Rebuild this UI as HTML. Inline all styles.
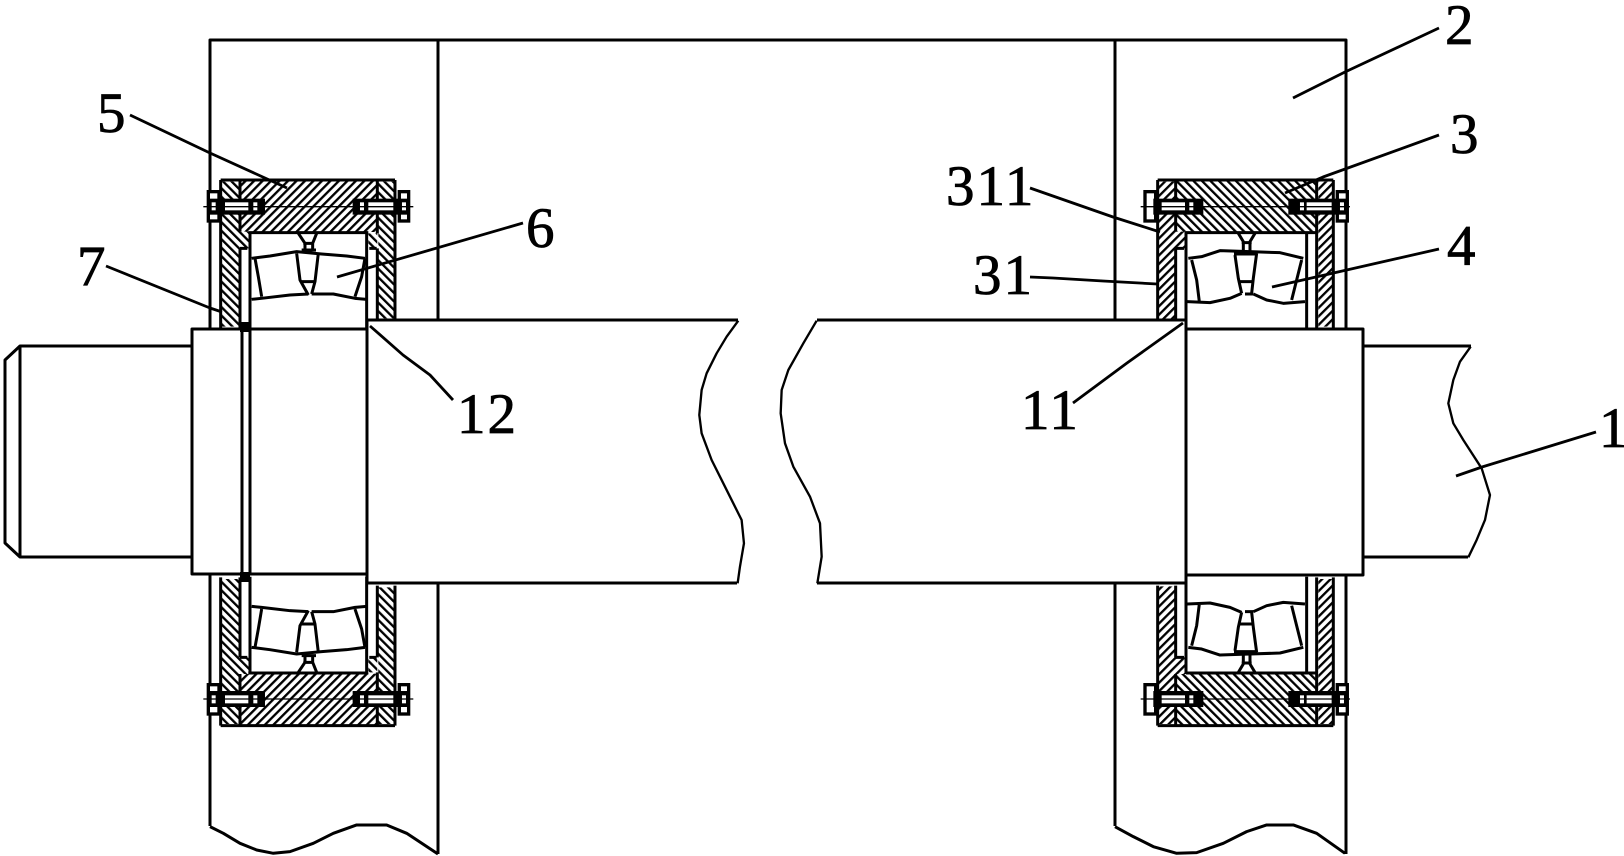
<!DOCTYPE html>
<html><head><meta charset="utf-8"><style>
html,body{margin:0;padding:0;background:#fff;width:1624px;height:856px;overflow:hidden}
svg{display:block}
text{font-family:"Liberation Serif",serif;font-size:57px;fill:#000;stroke:#000;stroke-width:.8;letter-spacing:2px}
.l{fill:none;stroke:#000;stroke-width:3;stroke-linejoin:round}
.t{fill:none;stroke:#000;stroke-width:2.8;stroke-linejoin:round}
.f path,.f line,.f polyline{fill:none;stroke:#000;stroke-width:9;stroke-linejoin:round}
.f .b{stroke-width:8}
.f .c{stroke-width:4}
.f rect.k{fill:#000;stroke:none}
.f rect.w{fill:#fff;stroke:none}
.f rect.h{fill:#fff;stroke:#000;stroke-width:10}
</style></head><body>
<svg xmlns="http://www.w3.org/2000/svg" width="1624" height="856" viewBox="0 0 1624 856">
<defs>
<pattern id="A" patternUnits="userSpaceOnUse" width="18" height="18" patternTransform="rotate(45)"><rect width="18" height="18" fill="#fff"/><rect width="7" height="18" fill="#000"/></pattern>
<pattern id="B" patternUnits="userSpaceOnUse" width="18" height="18" patternTransform="rotate(-45)"><rect width="18" height="18" fill="#fff"/><rect width="7" height="18" fill="#000"/></pattern>
<g id="LF" class="f">
<path d="M92 90H615M92 90V535M150 90V245M150 295V535M562 90V250M562 295V510M615 90V510M175 248H535M180 245V537M530 245V537M150 295H172M538 295H560"/>
<g class="b">
<path d="M185 325L240 318L320 305L395 312L470 318L525 325"/>
<path d="M195 325L205 380L215 440M185 448L215 445L300 435L355 432"/>
<path d="M320 310L330 390L355 435M385 310L375 395L365 432M330 395H375"/>
<path d="M525 325L515 380L495 440M365 432L430 432L495 445L530 448"/>
<path d="M325 250L345 280V300M380 250L368 280V300M340 280H372M335 300H378"/>
</g>
<rect class="h" x="55" y="125" width="32" height="88"/>
<rect class="k" x="55" y="146" width="170" height="48"/>
<rect class="k" x="488" y="146" width="142" height="48"/>
<rect class="h" x="628" y="125" width="28" height="88"/>
<rect class="k" x="628" y="146" width="28" height="48"/>
<rect class="w" x="105" y="157" width="70" height="24"/>
<rect class="w" x="535" y="157" width="75" height="24"/>
<rect class="w" x="190" y="157" width="12" height="24"/>
<rect class="w" x="510" y="157" width="12" height="24"/>
<rect class="w" x="65" y="157" width="12" height="24"/>
<rect class="w" x="636" y="157" width="12" height="24"/>
<line class="c" x1="40" y1="170" x2="670" y2="170"/>
</g>
<g id="RF" class="f">
<path d="M143 90H670M143 90V510M197 90V245M197 295V510M620 90V535M670 90V535M228 248H620M228 245V537M590 250V537M197 295H222"/>
<g class="b">
<path d="M235 325L275 320L330 302L420 305L510 308L580 325"/>
<path d="M245 330L260 390L268 455M232 455L300 458L360 445L395 430"/>
<path d="M375 315L385 385L395 430M440 310L430 385L425 430M372 312H442M385 395H430M405 432H430"/>
<path d="M575 330L560 390L545 450M430 432L470 450L520 460L585 455"/>
<path d="M385 250L400 275V302M435 250L420 275V302M395 278H425"/>
</g>
<rect class="h" x="105" y="125" width="32" height="88"/>
<rect class="k" x="130" y="146" width="150" height="48"/>
<rect class="k" x="535" y="146" width="145" height="48"/>
<rect class="h" x="682" y="125" width="30" height="88"/>
<rect class="k" x="682" y="146" width="30" height="48"/>
<rect class="w" x="155" y="157" width="70" height="24"/>
<rect class="w" x="590" y="157" width="75" height="24"/>
<rect class="w" x="238" y="157" width="12" height="24"/>
<rect class="w" x="570" y="157" width="12" height="24"/>
<rect class="w" x="113" y="157" width="12" height="24"/>
<rect class="w" x="690" y="157" width="12" height="24"/>
<line class="c" x1="92" y1="170" x2="720" y2="170"/>
</g>
</defs>

<!-- housing -->
<g class="l">
<path d="M210 329V40H1346V329"/>
<path d="M438 40V320M1115 40V320"/>
<path d="M210 574V826"/>
<path d="M438 583V854"/>
<path d="M1115 583V826"/>
<path d="M1346 575V854"/>
</g>
<g transform="translate(190,560) scale(.3333)" class="l" style="stroke-width:9">
<path d="M60 800L100 820L150 850L200 870L250 880L300 875L370 850L430 820L500 795L590 795L650 820L744 882"/>
</g>
<g transform="translate(1110,560) scale(.3333)" class="l" style="stroke-width:9">
<path d="M15 800L70 830L130 860L200 880L260 878L340 850L410 815L470 795L550 795L620 820L705 880"/>
</g>

<!-- left top assembly -->
<g transform="translate(190,150) scale(.3333)">
<rect x="150" y="92" width="412" height="154" fill="url(#A)"/>
<path d="M95 95H150V530H95ZM565 95H615V505H565ZM150 245H178V295H150ZM535 250H562V295H535Z" fill="url(#B)"/>
<use href="#LF"/>
</g>
<!-- left bottom assembly -->
<g transform="translate(190,755.67) scale(.3333,-.3333)">
<rect x="150" y="92" width="412" height="154" fill="url(#B)"/>
<path d="M95 95H150V530H95ZM565 95H615V505H565ZM150 245H178V295H150ZM535 250H562V295H535Z" fill="url(#A)"/>
<use href="#LF"/>
</g>
<!-- right top assembly -->
<g transform="translate(1110,150) scale(.3333)">
<rect x="197" y="92" width="423" height="154" fill="url(#B)"/>
<path d="M145 95H197V508H145ZM625 95H668V530H625ZM197 245H226V295H197Z" fill="url(#A)"/>
<use href="#RF"/>
</g>
<!-- right bottom assembly -->
<g transform="translate(1110,755.67) scale(.3333,-.3333)">
<rect x="197" y="92" width="423" height="154" fill="url(#A)"/>
<path d="M145 95H197V508H145ZM625 95H668V530H625ZM197 245H226V295H197Z" fill="url(#B)"/>
<use href="#RF"/>
</g>

<!-- shaft -->
<g class="l">
<path d="M192 346H20L5 360V543L20 557H192"/>
<path d="M20 346V557"/>
<rect x="192" y="329" width="175" height="245"/>
<path d="M242 329V574M250 329V574"/>
<path d="M367 320V583M367 320H738M367 583H737"/>
<path d="M1186 320H817M1186 320V583M1186 583H817"/>
<path d="M1186 329H1363V575H1186"/>
<path d="M1363 346H1471M1363 557H1468"/>
</g>
<rect x="240" y="322" width="10" height="10" fill="#000"/>
<rect x="240" y="572" width="10" height="10" fill="#000"/>

<!-- break lines -->
<g transform="translate(360,300) scale(.3333)" class="l" style="stroke-width:7">
<path d="M1135 62L1100 110L1070 160L1040 220L1025 270L1018 345L1025 400L1055 480L1090 550L1120 610L1145 660L1152 730L1140 800L1133 850"/>
</g>
<g transform="translate(780,300) scale(.3333)" class="l" style="stroke-width:7">
<path d="M110 62L70 130L25 210L5 270L2 340L15 430L40 500L90 590L120 670L125 770L112 850"/>
</g>
<g transform="translate(1320,320) scale(.3333)" class="l" style="stroke-width:7">
<path d="M452 80L420 125L400 180L385 250L400 310L430 360L485 445L510 525L495 600L470 660L445 712"/>
</g>

<!-- leaders -->
<g class="t">
<path d="M130 115L210 153L287 188"/>
<path d="M106 266L210 308L222 312"/>
<path d="M337 277L523 223"/>
<path d="M370 326L403 355L430 375L453 400"/>
<path d="M1183 323L1127 363L1073 403"/>
<path d="M1030 188L1113 217L1160 232"/>
<path d="M1030 277L1053 278L1103 281L1157 284"/>
<path d="M1293 98L1345 72L1439 28"/>
<path d="M1285 193L1323 177L1439 135"/>
<path d="M1272 287L1439 249"/>
<path d="M1456 476L1482 467L1596 432"/>
</g>

<!-- labels -->
<text x="97" y="132">5</text>
<text x="77" y="285">7</text>
<text x="526" y="247">6</text>
<text x="457" y="433">12</text>
<text x="1021" y="429">11</text>
<text x="946" y="205">311</text>
<text x="973" y="294">31</text>
<text x="1445" y="44">2</text>
<text x="1450" y="153">3</text>
<text x="1447" y="265">4</text>
<text x="1599" y="447">1</text>
</svg>
</body></html>
